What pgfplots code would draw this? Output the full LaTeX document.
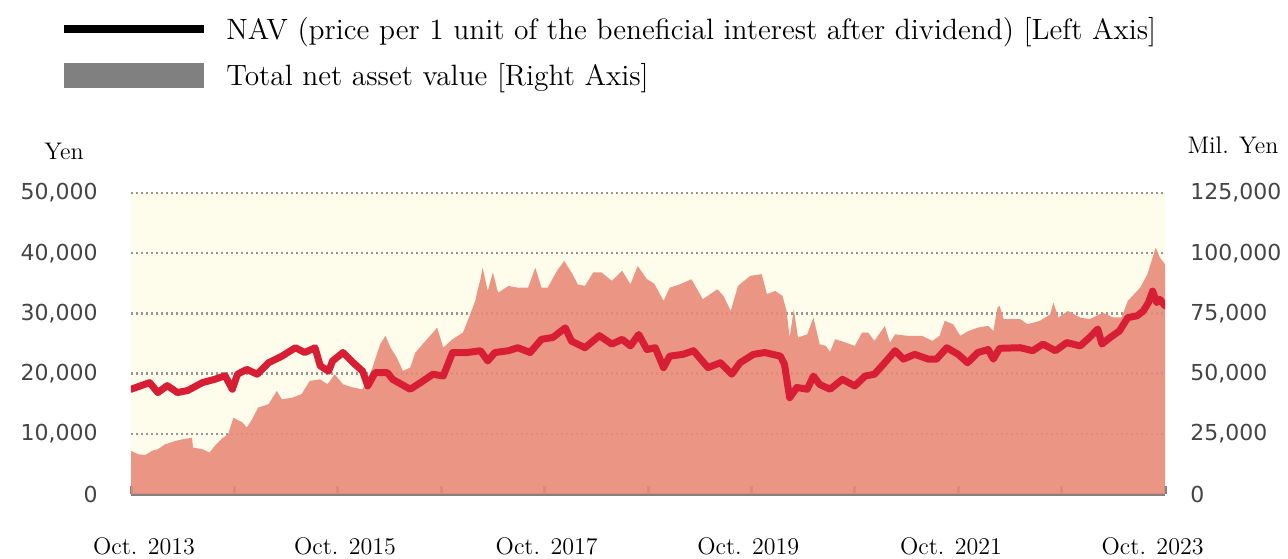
\documentclass[border=0pt]{standalone}
\usepackage{pgfplots}
\pgfplotsset{compat=1.18}
\usepackage{pgfplotstable}
\usepackage{fontspec}
\newfontfamily\tickfont{DejaVu Sans}
\definecolor{cream}{RGB}{254,252,235}
\definecolor{salmon}{RGB}{234,138,122}
\definecolor{navred}{RGB}{216,30,52}
\definecolor{axisgray}{RGB}{128,128,128}
\definecolor{gridgray}{RGB}{150,150,150}
\definecolor{ticktext}{RGB}{68,68,68}
\definecolor{legendgray}{RGB}{128,128,128}

\pgfplotstableread{
t v
0 17400
0.18 18500
0.26 16850
0.35 18000
0.45 16850
0.55 17200
0.69 18500
0.81 19050
0.91 19650
0.98 17400
1.03 19900
1.12 20700
1.22 19900
1.33 21800
1.46 22900
1.59 24300
1.68 23500
1.78 24300
1.83 21300
1.91 20400
1.95 22100
2.05 23500
2.15 21800
2.24 20400
2.29 17950
2.36 20150
2.48 20150
2.53 19050
2.70 17400
2.80 18500
2.92 19900
3.02 19600
3.11 23500
3.25 23500
3.38 23800
3.45 22100
3.52 23500
3.65 23800
3.74 24300
3.86 23500
3.97 25700
4.08 26000
4.20 27600
4.26 25400
4.39 24300
4.53 26300
4.65 24900
4.75 25700
4.83 24600
4.91 26500
4.99 24000
5.07 24300
5.15 21000
5.21 22900
5.34 23200
5.44 23800
5.58 21000
5.70 21800
5.81 19900
5.89 21800
6.02 23200
6.13 23500
6.28 22900
6.32 21550
6.37 16000
6.44 17700
6.54 17400
6.60 19600
6.66 18200
6.76 17400
6.88 19050
7.00 17950
7.10 19600
7.19 19900
7.29 21800
7.39 23800
7.47 22400
7.58 23200
7.71 22400
7.79 22400
7.89 24300
8.00 23200
8.09 21800
8.19 23500
8.29 24000
8.34 22400
8.40 24200
8.60 24300
8.72 23800
8.82 24900
8.94 23800
9.05 25150
9.18 24600
9.27 26000
9.35 27400
9.39 24900
9.47 26000
9.56 27100
9.64 29300
9.73 29600
9.79 30400
9.84 31800
9.88 33700
9.92 31800
9.95 32350
10.00 31250
}\navtable

\pgfplotstableread{
t v
0 17900
0.07 16500
0.14 16200
0.20 17900
0.26 18600
0.33 20650
0.43 22050
0.50 22700
0.59 23400
0.60 19300
0.69 18600
0.76 17200
0.81 20000
0.89 23400
0.94 24800
0.99 31700
1.02 31000
1.08 29650
1.12 27600
1.17 31000
1.23 35900
1.33 37300
1.41 42800
1.46 39300
1.56 40000
1.65 41500
1.73 47000
1.83 47600
1.90 45550
1.97 49700
2.05 45550
2.15 44200
2.24 43500
2.33 51800
2.41 62200
2.46 65700
2.51 60800
2.57 56650
2.63 51100
2.70 52500
2.75 58700
2.82 62200
2.92 67000
2.96 69100
3.02 60800
3.11 64300
3.21 67000
3.28 74600
3.33 80200
3.35 84300
3.38 89200
3.40 94000
3.45 84300
3.50 92000
3.55 83600
3.65 86400
3.74 85700
3.84 85700
3.91 94000
3.97 85700
4.03 85700
4.12 92700
4.19 96800
4.27 91300
4.32 87100
4.39 86400
4.47 92000
4.55 92000
4.65 88500
4.75 92700
4.83 87100
4.90 94700
4.99 89200
5.06 87400
5.15 80200
5.21 85700
5.31 87100
5.42 89200
5.53 80900
5.67 85000
5.73 82300
5.80 76000
5.87 86400
5.99 90600
6.10 91300
6.15 83000
6.23 84300
6.30 82300
6.34 76000
6.37 65000
6.41 76700
6.45 65000
6.54 66300
6.60 73300
6.66 62200
6.72 61500
6.76 59000
6.81 64300
6.91 62900
7.00 61500
7.07 67000
7.13 67000
7.19 63600
7.29 69800
7.34 62900
7.39 66300
7.51 65700
7.65 65700
7.75 63600
7.82 65700
7.87 71900
7.95 70500
8.02 65700
8.10 67700
8.19 69100
8.29 69800
8.34 67700
8.38 77400
8.40 78100
8.44 72600
8.60 72600
8.67 70500
8.79 71900
8.89 74600
8.92 79500
8.97 73300
9.06 76000
9.18 73300
9.27 72600
9.40 75300
9.50 73300
9.58 73300
9.64 80200
9.76 85700
9.83 91300
9.88 98200
9.91 102300
9.95 98200
10.00 95400
}\tnatable

\begin{document}
\begin{tikzpicture}[x=1pt,y=1pt]
\useasboundingbox (-65.5,-32) rectangle (578.5,247);
% legend
\draw[black, line width=4pt] (-33.5,232.5) -- (36.5,232.5);
\fill[legendgray] (-33.5,203) rectangle (36.5,215.5);
\node[anchor=base west, inner sep=0pt, font=\fontsize{14.7}{17}\selectfont] at (47.5,227) {NAV (price per 1 unit of the beneficial interest after dividend) [Left Axis]};
\node[anchor=base west, inner sep=0pt, font=\fontsize{14.7}{17}\selectfont] at (47.5,204) {Total net asset value [Right Axis]};
\node[anchor=base, inner sep=0pt, font=\fontsize{12}{14}\selectfont] at (-33.5,167.5) {Yen};
\node[anchor=base, inner sep=0pt, font=\fontsize{12}{14}\selectfont] at (551,170.5) {Mil. Yen};

\begin{axis}[
  at={(0,0)}, anchor=south west,
  width=517pt, height=150.5pt, scale only axis,
  xmin=0, xmax=10, ymin=0, ymax=125000,
  axis background/.style={fill=cream},
  separate axis lines,
  axis x line*=bottom, axis y line*=right,
  x axis line style={draw=axisgray, line width=1.5pt, -},
  y axis line style={draw=none},
  xtick={0,1,...,10}, xticklabels={},
  tick align=inside, major tick length=4pt,
  x tick style={draw=axisgray, line width=1.5pt},
  y tick style={draw=none},
  ytick={0,25000,50000,75000,100000,125000},
  yticklabels={0,{25,000},{50,000},{75,000},{100,000},{125,000}},
  ymajorgrids,
  major grid style={draw=gridgray, line width=1.2pt, dash pattern=on 1.2pt off 1.3pt},
  extra x ticks={0.126,2.07,4.02,5.97,7.93,9.88},
  extra x tick labels={Oct. 2013,Oct. 2015,Oct. 2017,Oct. 2019,Oct. 2021,Oct. 2023},
  extra x tick style={major tick length=0pt, tick label style={font=\fontsize{12}{14}\selectfont, text=black, anchor=base, yshift=-30pt}},
  yticklabel style={font=\tickfont\fontsize{11}{13}\selectfont, text=ticktext, anchor=west, inner sep=0pt, xshift=12.5pt},
  scaled y ticks=false,
]
\addplot[draw=none, fill=salmon, fill opacity=0.9] table[x=t,y=v] {\tnatable} \closedcycle;
\end{axis}

\begin{axis}[
  at={(0,0)}, anchor=south west,
  width=517pt, height=150.5pt, scale only axis,
  xmin=0, xmax=10, ymin=0, ymax=50000,
  hide x axis,
  separate axis lines,
  axis y line*=left,
  y axis line style={draw=none},
  y tick style={draw=none},
  ytick={0,10000,20000,30000,40000,50000},
  yticklabels={0,{10,000},{20,000},{30,000},{40,000},{50,000}},
  yticklabel style={font=\tickfont\fontsize{11}{13}\selectfont, text=ticktext, anchor=east, inner sep=0pt, xshift=-16.5pt},
  scaled y ticks=false,
]
\addplot[navred, line width=3.5pt, line join=round, line cap=round] table[x=t,y=v] {\navtable};
\end{axis}
\end{tikzpicture}
\end{document}
